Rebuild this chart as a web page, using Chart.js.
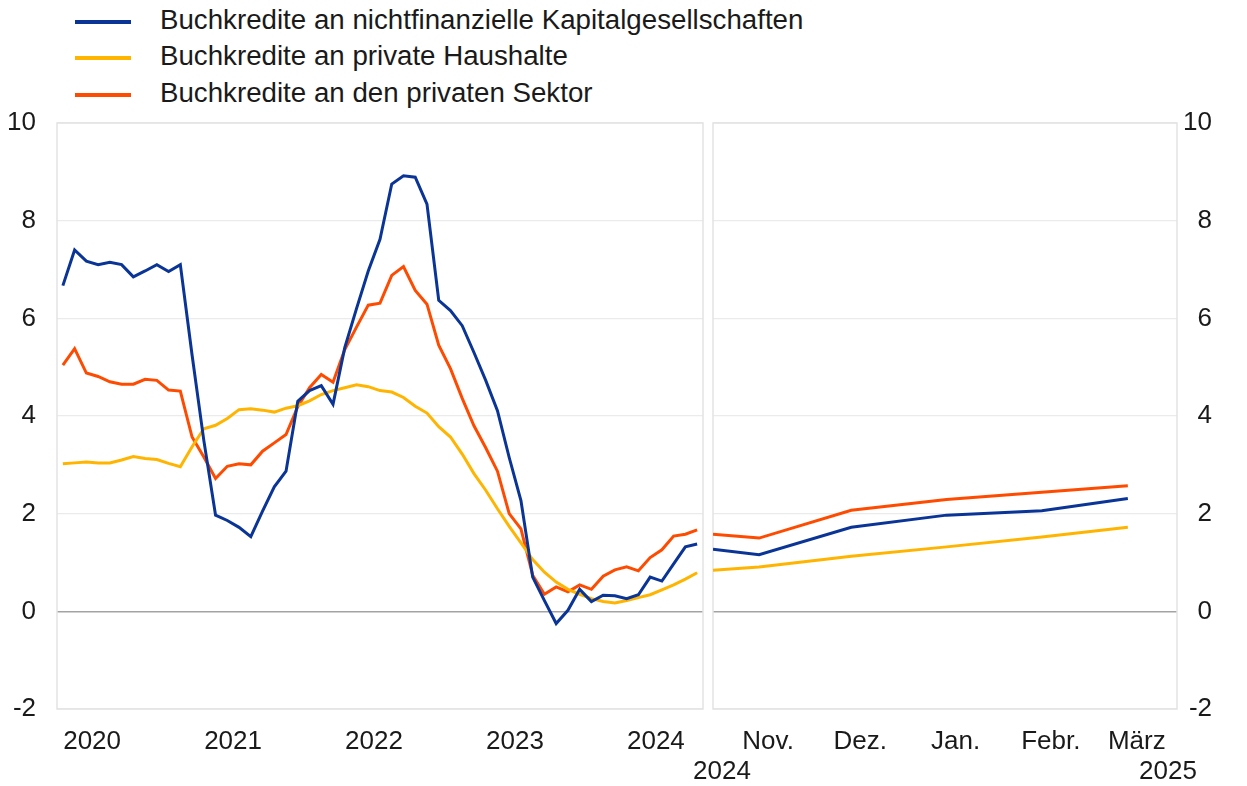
<!DOCTYPE html>
<html>
<head>
<meta charset="utf-8">
<script src="https://cdn.jsdelivr.net/npm/chart.js@4.4.1/dist/chart.umd.min.js"></script>
<style>
  body { margin: 0; background: #fff; width: 1247px; height: 786px; position: relative; overflow: hidden;
         font-family: "Liberation Sans", Arial, sans-serif; color: #1a1a1a; }
  #left { position: absolute; left: 0; top: 0; }
  #right { position: absolute; left: 680px; top: 0; }
  .row { position: absolute; left: 75px; height: 36px; line-height: 36px; font-size: 27.7px; white-space: nowrap; }
  .row span { display: inline-block; width: 56px; height: 4px; vertical-align: middle; margin-right: 29px; }
</style>
</head>
<body>
<div id="legend"></div>
<canvas id="left" width="708" height="786"></canvas>
<canvas id="right" width="567" height="786"></canvas>
<script>
// series names
const seriesNames = [
  'Buchkredite an nichtfinanzielle Kapitalgesellschaften',
  'Buchkredite an private Haushalte',
  'Buchkredite an den privaten Sektor'
];
const colors = ['#0a3597', '#ffb400', '#ff4b00'];

// left panel: monthly, Apr 2020 - Oct 2024
const leftMonths = [
  '2020-04','2020-05','2020-06','2020-07','2020-08','2020-09','2020-10','2020-11','2020-12',
  '2021-01','2021-02','2021-03','2021-04','2021-05','2021-06','2021-07','2021-08','2021-09','2021-10','2021-11','2021-12',
  '2022-01','2022-02','2022-03','2022-04','2022-05','2022-06','2022-07','2022-08','2022-09','2022-10','2022-11','2022-12',
  '2023-01','2023-02','2023-03','2023-04','2023-05','2023-06','2023-07','2023-08','2023-09','2023-10','2023-11','2023-12',
  '2024-01','2024-02','2024-03','2024-04','2024-05','2024-06','2024-07','2024-08','2024-09','2024-10'
];
const yearTicks = ['2020', '2021', '2022', '2023', '2024'];

const nfcLeft = [6.67, 7.40, 7.17, 7.10, 7.15, 7.10, 6.85, 6.97, 7.10, 6.96, 7.10, 5.25, 3.50, 1.97, 1.86, 1.72,
  1.53, 2.05, 2.55, 2.87, 4.30, 4.52, 4.62, 4.24, 5.40, 6.20, 6.97, 7.62, 8.75, 8.92, 8.89, 8.34, 6.37, 6.16,
  5.85, 5.30, 4.73, 4.11, 3.15, 2.27, 0.70, 0.22, -0.25, 0.02, 0.45, 0.20, 0.33, 0.32, 0.26, 0.34, 0.70, 0.62,
  0.97, 1.32, 1.38];
const hhLeft = [3.02, 3.04, 3.06, 3.04, 3.04, 3.10, 3.17, 3.13, 3.11, 3.03, 2.96, 3.37, 3.74, 3.81, 3.95, 4.13,
  4.15, 4.12, 4.08, 4.16, 4.21, 4.31, 4.44, 4.52, 4.58, 4.64, 4.60, 4.52, 4.49, 4.38, 4.20, 4.06, 3.78, 3.57,
  3.22, 2.82, 2.48, 2.10, 1.74, 1.40, 1.06, 0.80, 0.60, 0.45, 0.35, 0.26, 0.20, 0.17, 0.22, 0.28, 0.34, 0.44,
  0.54, 0.66, 0.79];
const privLeft = [5.04, 5.38, 4.88, 4.81, 4.70, 4.65, 4.65, 4.75, 4.73, 4.53, 4.51, 3.57, 3.16, 2.72, 2.97, 3.02,
  3.00, 3.28, 3.45, 3.62, 4.19, 4.58, 4.85, 4.69, 5.36, 5.82, 6.27, 6.31, 6.88, 7.06, 6.57, 6.29, 5.45, 4.97,
  4.36, 3.80, 3.35, 2.87, 2.00, 1.69, 0.74, 0.35, 0.50, 0.40, 0.54, 0.45, 0.72, 0.85, 0.91, 0.83, 1.10, 1.26,
  1.54, 1.58, 1.67];

// right panel: Nov 2024 - Mar 2025
const rightDates = ['2024-10-17', '2024-11-01', '2024-12-01', '2025-01-01', '2025-02-01', '2025-03-01'];
const rightEnd = '2025-03-17';
const nfcRight = [1.27, 1.16, 1.72, 1.97, 2.06, 2.31];
const hhRight = [0.84, 0.91, 1.13, 1.32, 1.52, 1.72];
const privRight = [1.58, 1.50, 2.07, 2.29, 2.44, 2.57];
const rightTickDates = ['2024-11-01', '2024-12-01', '2025-01-01', '2025-02-01', '2025-03-01'];
const rightTickLabels = ['Nov.', 'Dez.', 'Jan.', 'Febr.', 'März'];
const rightYears = ['2024', '2025'];

const yTicks = { min: -2, max: 10, step: 2 };

// legend
const legendTops = [2, 38, 75];
seriesNames.forEach((name, i) => {
  const row = document.createElement('div');
  row.className = 'row';
  row.style.top = legendTops[i] + 'px';
  row.innerHTML = '<span style="background:' + colors[i] + '"></span>' + name;
  document.getElementById('legend').appendChild(row);
});

const FONT = { family: '"Liberation Sans", Arial, sans-serif', size: 26 };
const TEXT = '#1a1a1a';

function day(s) {
  const p = s.split('-').map(Number);
  return Date.UTC(p[0], p[1] - 1, p[2]) / 86400000;
}

const gridColor = c => c.tick && c.tick.value === 0 ? '#a3a3a3' : '#ebebeb';
const gridWidth = c => c.tick && c.tick.value === 0 ? 1.6 : 1.2;

const panelBox = {
  id: 'panelBox',
  beforeDatasetsDraw(chart) {
    const a = chart.chartArea, ctx = chart.ctx;
    ctx.save();
    ctx.strokeStyle = '#e3e3e3';
    ctx.lineWidth = 1.5;
    ctx.strokeRect(a.left, a.top, a.right - a.left, a.bottom - a.top);
    ctx.restore();
  }
};

function lineSet(label, data, color) {
  return { label, data, borderColor: color, backgroundColor: color, borderWidth: 3,
           pointRadius: 0, tension: 0, fill: false };
}

function yAxis(position) {
  return {
    position, min: yTicks.min, max: yTicks.max,
    afterFit: s => { s.width = position === 'left' ? 57 : 35; },
    ticks: { stepSize: yTicks.step, font: FONT, color: TEXT, padding: 21,
             crossAlign: position === 'left' ? 'near' : 'far' },
    grid: { color: gridColor, lineWidth: gridWidth, drawTicks: false },
    border: { display: false }
  };
}

new Chart(document.getElementById('left'), {
  type: 'line',
  data: {
    labels: leftMonths,
    datasets: [
      lineSet(seriesNames[0], nfcLeft, colors[0]),
      lineSet(seriesNames[1], hhLeft, colors[1]),
      lineSet(seriesNames[2], privLeft, colors[2])
    ]
  },
  options: {
    responsive: false, animation: false,
    layout: { padding: { top: 123, right: 5, left: 0, bottom: 0 } },
    plugins: { legend: { display: false }, tooltip: { enabled: false } },
    scales: {
      x: {
        type: 'category', offset: true,
        afterFit: s => { s.height = 77; },
        grid: { display: false }, border: { display: false },
        ticks: {
          autoSkip: false, maxRotation: 0, font: FONT, color: TEXT, padding: 9, labelOffset: -6,
          callback: function (v) {
            const lab = this.getLabelForValue(v);
            const y = lab.slice(0, 4);
            return lab.slice(5) === '07' && yearTicks.includes(y) ? y : '';
          }
        }
      },
      y: yAxis('left')
    }
  },
  plugins: [panelBox]
});

const yearRow = {
  id: 'yearRow',
  afterDraw(chart) {
    const a = chart.chartArea, ctx = chart.ctx;
    ctx.save();
    ctx.font = FONT.size + 'px ' + FONT.family;
    ctx.fillStyle = TEXT;
    ctx.textAlign = 'center';
    ctx.textBaseline = 'middle';
    ctx.fillText(rightYears[0], a.left + 9, 772);
    ctx.fillText(rightYears[1], a.right - 9, 772);
    ctx.restore();
  }
};

const toPts = arr => arr.map((v, i) => ({ x: day(rightDates[i]), y: v }));

new Chart(document.getElementById('right'), {
  type: 'line',
  data: {
    datasets: [
      lineSet(seriesNames[0], toPts(nfcRight), colors[0]),
      lineSet(seriesNames[1], toPts(hhRight), colors[1]),
      lineSet(seriesNames[2], toPts(privRight), colors[2])
    ]
  },
  options: {
    responsive: false, animation: false,
    layout: { padding: { top: 123, right: 35, left: 33, bottom: 0 } },
    plugins: { legend: { display: false }, tooltip: { enabled: false } },
    scales: {
      x: {
        type: 'linear', min: day(rightDates[0]), max: day(rightEnd),
        afterFit: s => { s.height = 77; },
        afterBuildTicks: s => { s.ticks = rightTickDates.map(d => ({ value: day(d) })); },
        grid: { display: false }, border: { display: false },
        ticks: {
          autoSkip: false, maxRotation: 0, font: FONT, color: TEXT, padding: 9, labelOffset: 9,
          callback: (v, i) => rightTickLabels[i]
        }
      },
      y: yAxis('right')
    }
  },
  plugins: [panelBox, yearRow]
});
</script>
</body>
</html>
